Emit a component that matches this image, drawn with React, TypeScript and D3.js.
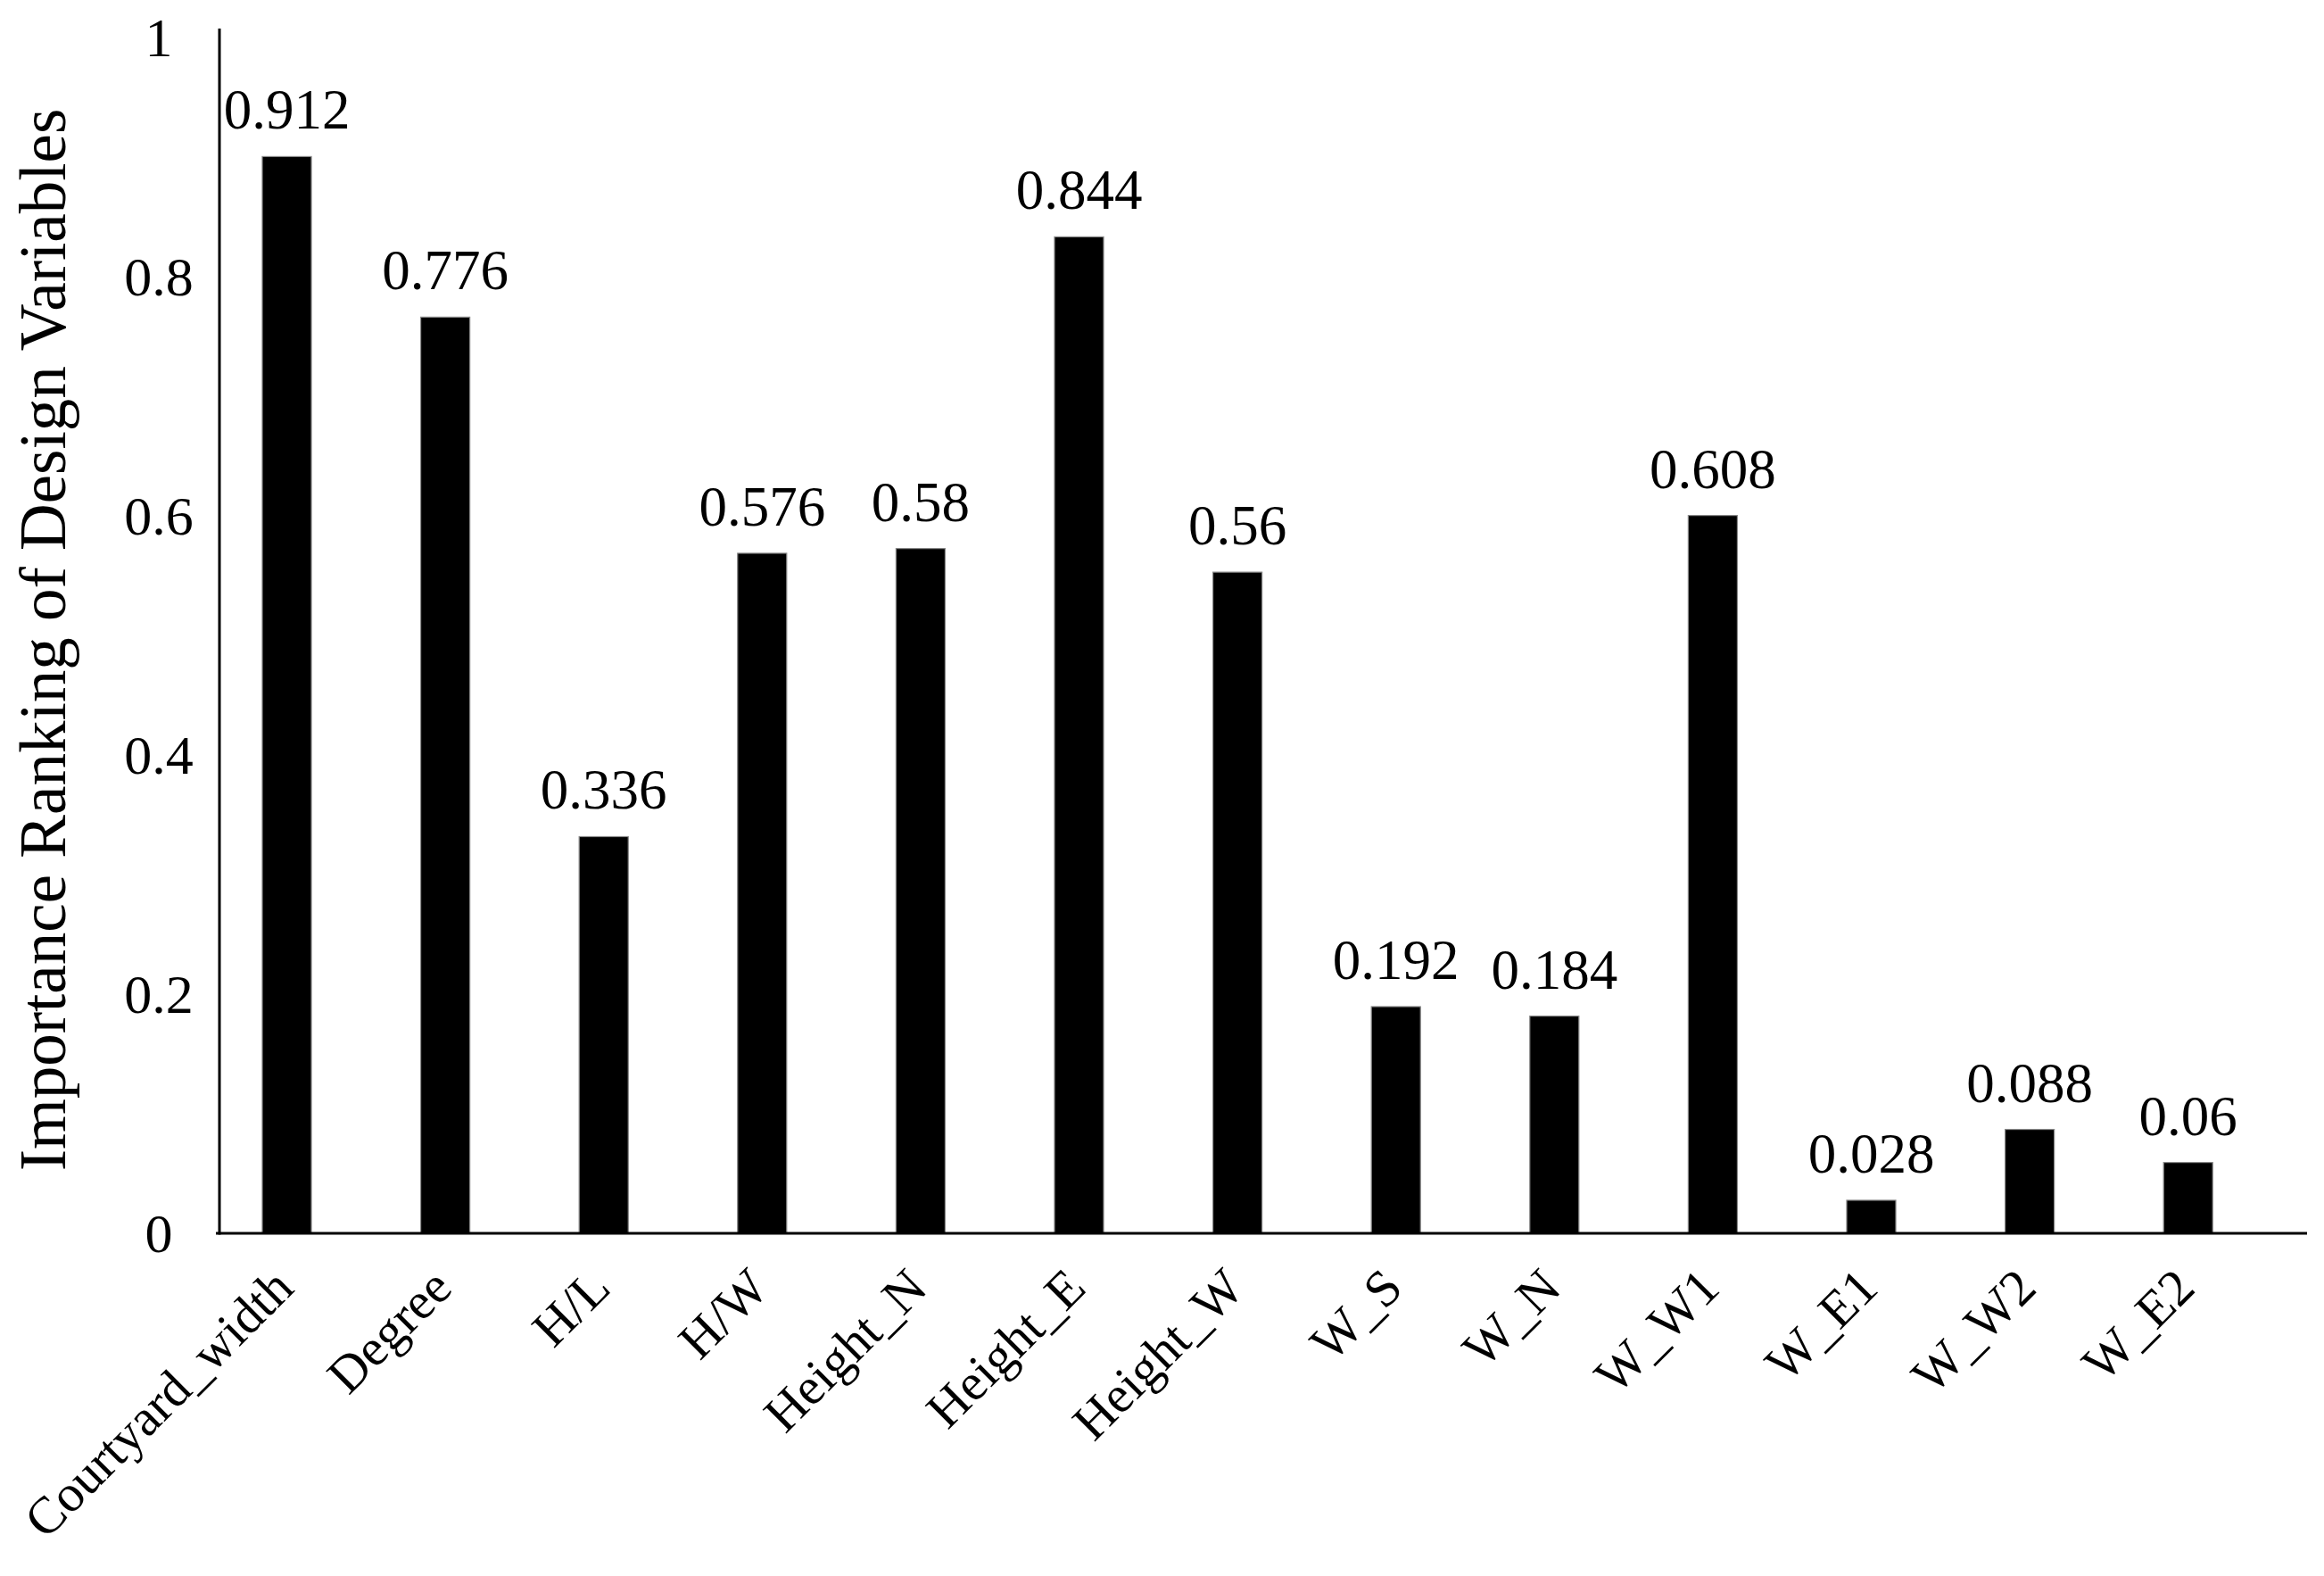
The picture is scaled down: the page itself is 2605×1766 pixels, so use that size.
import React from "react";
import * as d3 from "d3";

const categories = [
  "Courtyard_width", "Degree", "H/L", "H/W", "Height_N", "Height_E", "Height_W",
  "W_S", "W_N", "W_W1", "W_E1", "W_W2", "W_E2",
];
const values = [0.912, 0.776, 0.336, 0.576, 0.58, 0.844, 0.56, 0.192, 0.184, 0.608, 0.028, 0.088, 0.06];
const valueLabels = ["0.912", "0.776", "0.336", "0.576", "0.58", "0.844", "0.56", "0.192", "0.184", "0.608", "0.028", "0.088", "0.06"];
const yTicks = [0, 0.2, 0.4, 0.6, 0.8, 1];
const yTickLabels = ["0", "0.2", "0.4", "0.6", "0.8", "1"];
const yTitle = "Importance Ranking of Design Variables";

const W = 2605;
const H = 1766;
const FONT = "'Liberation Serif', 'Times New Roman', serif";

export default function App() {
  const x = d3
    .scaleBand<string>()
    .domain(categories)
    .range([232.7, 2541.5])
    .paddingInner(0.69)
    .paddingOuter(0.345);
  const y = d3.scaleLinear().domain([0, 1]).range([1382, 59]);
  // tick-label baselines as laid out in the reference
  const yLab = d3.scaleLinear().domain([0, 1]).range([1403, 63]);
  const axisX = 246;
  const axisY = y(0);

  return (
    <svg
      width={W}
      height={H}
      viewBox={`0 0 ${W} ${H}`}
      style={{ position: "absolute", left: 0, top: 0, display: "block", background: "#fff" }}
      fontFamily={FONT}
    >
      <rect x={0} y={0} width={W} height={H} fill="#fff" />
      {/* bars */}
      {categories.map((c, i) => (
        <rect
          key={c}
          x={x(c)!}
          y={y(values[i])}
          width={x.bandwidth()}
          height={axisY - y(values[i])}
          fill="#000"
          stroke="#8a8a8a"
          strokeWidth={1.2}
        />
      ))}
      {/* value labels */}
      {categories.map((c, i) => (
        <text
          key={c + "-v"}
          x={x(c)! + x.bandwidth() / 2}
          y={y(values[i]) - 31}
          textAnchor="middle"
          fontSize={63}
          fill="#000"
        >
          {valueLabels[i]}
        </text>
      ))}
      {/* axes */}
      <line x1={axisX} x2={axisX} y1={32} y2={axisY + 1.5} stroke="#000" strokeWidth={3} />
      <line x1={axisX - 4} x2={2586} y1={axisY} y2={axisY} stroke="#000" strokeWidth={3} />
      {/* y tick labels */}
      {yTicks.map((t, i) => (
        <text key={"t" + i} x={178} y={yLab(t)} textAnchor="middle" fontSize={62} fill="#000">
          {yTickLabels[i]}
        </text>
      ))}
      {/* x category labels */}
      {categories.map((c) => {
        const px = x(c)! + x.bandwidth() / 2 + 10;
        const py = axisY + 64;
        return (
          <text
            key={c + "-x"}
            x={px}
            y={py}
            transform={`rotate(-45 ${px} ${py})`}
            textAnchor="end"
            fontSize={58}
            fill="#000"
          >
            {c}
          </text>
        );
      })}
      {/* y title */}
      <text
        x={73}
        y={717}
        transform={`rotate(-90 73 717)`}
        textAnchor="middle"
        fontSize={73}
        fill="#000"
      >
        {yTitle}
      </text>
    </svg>
  );
}
